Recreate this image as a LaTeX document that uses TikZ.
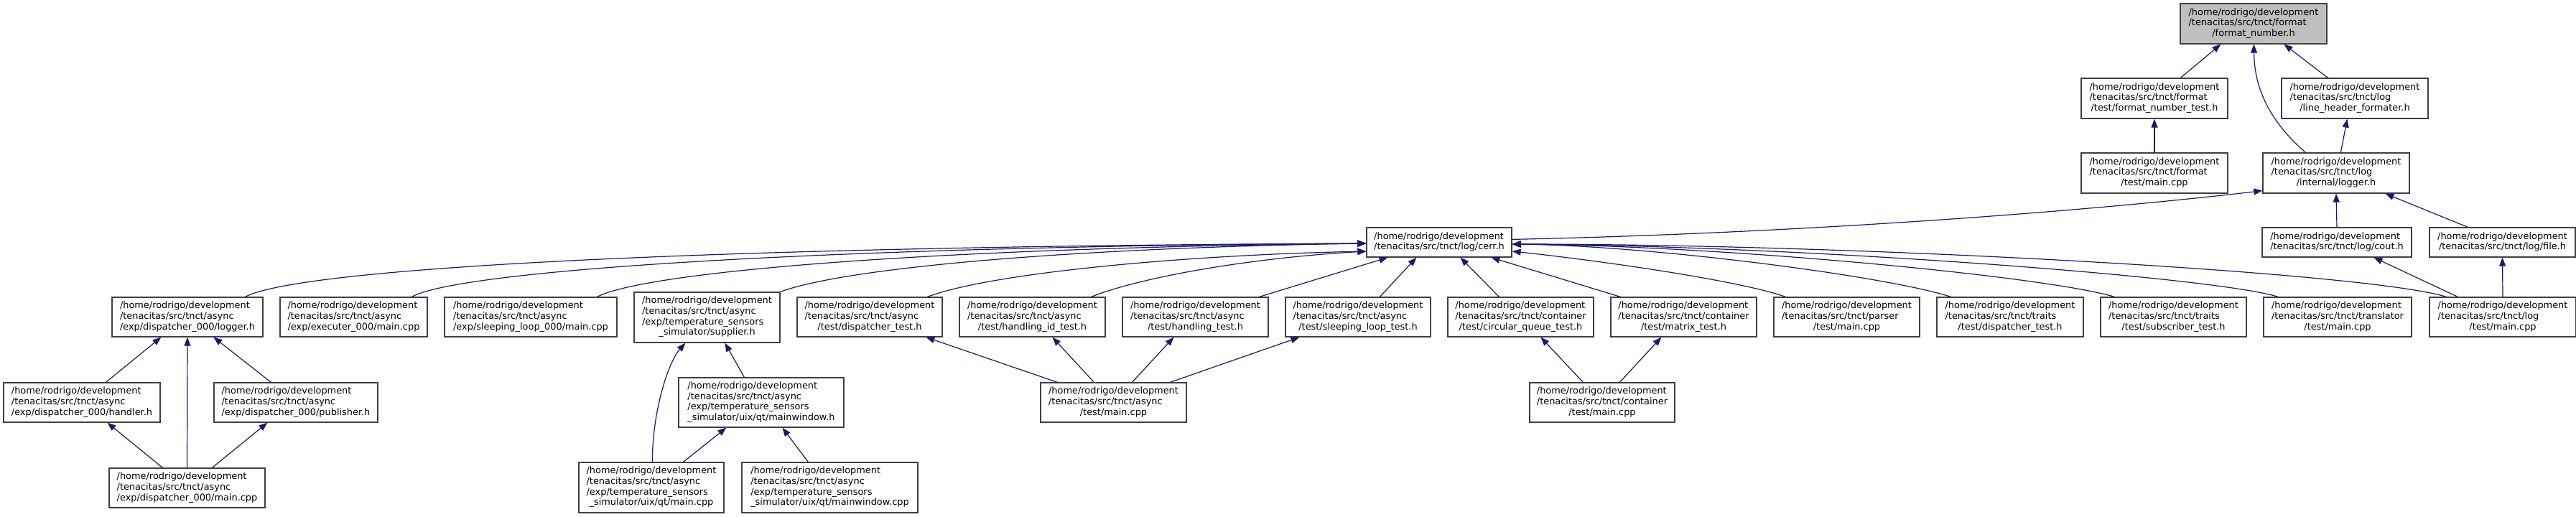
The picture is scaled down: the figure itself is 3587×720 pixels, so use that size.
\documentclass[tikz,border=0pt]{standalone}
\usepackage{fontspec}
\setmainfont{DejaVu Sans}
\usetikzlibrary{arrows.meta}
\definecolor{edgecol}{HTML}{191970}
\definecolor{bordercol}{HTML}{404040}
\definecolor{rootfill}{HTML}{BFBFBF}
\newcommand\twol[2]{\begin{tabular}{@{}l@{}}#1\\\multicolumn{1}{@{}c@{}}{#2}\end{tabular}}
\newcommand\threel[3]{\begin{tabular}{@{}l@{}}#1\\#2\\\multicolumn{1}{@{}c@{}}{#3}\end{tabular}}
\newcommand\fourl[4]{\begin{tabular}{@{}l@{}}#1\\#2\\#3\\\multicolumn{1}{@{}c@{}}{#4}\end{tabular}}
\newcommand\hrd{/home/rodrigo/development}
\newcommand\nd[7][]{\node[box,#1,minimum width={#5pt-#3pt},minimum height={#6pt-#4pt}] (#2) at ({(#3+#5)/2},{(#4+#6)/2}) {#7};}
\tikzset{
  box/.style={draw=bordercol, line width=1.2pt, fill=white, inner sep=0pt,
    font=\fontsize{12.9}{14.7}\selectfont},
  rootbox/.style={fill=rootfill},
  edge/.style={draw=edgecol, line width=1.2pt, -{Triangle[length=12pt,width=9pt]}}
}
\begin{document}
\begin{tikzpicture}[x=1pt,y=-1pt]
\fill[white] (0,0) rectangle (3587,720);
\useasboundingbox (0,0) rectangle (3587,720);
% row 1
\nd[rootbox]{fmt}{3036}{5}{3240}{61}{\threel{\hrd}{/tenacitas/src/tnct/format}{/format\_number.h}}
% row 2
\nd{fmttest}{2898}{109}{3102}{165}{\threel{\hrd}{/tenacitas/src/tnct/format}{/test/format\_number\_test.h}}
\nd{linehdr}{3177}{109}{3381}{165}{\threel{\hrd}{/tenacitas/src/tnct/log}{/line\_header\_formater.h}}
% row 3
\nd{fmtmain}{2898}{213}{3102}{269}{\threel{\hrd}{/tenacitas/src/tnct/format}{/test/main.cpp}}
\nd{logger}{3151}{213}{3355}{269}{\threel{\hrd}{/tenacitas/src/tnct/log}{/internal/logger.h}}
% cerr row
\nd{cerr}{1903}{317}{2105}{358}{\twol{\hrd}{/tenacitas/src/tnct/log/cerr.h}}
\nd{cout}{3150}{317}{3358}{358}{\twol{\hrd}{/tenacitas/src/tnct/log/cout.h}}
\nd{file}{3383}{317}{3586}{358}{\twol{\hrd}{/tenacitas/src/tnct/log/file.h}}
% row 4
\nd{dlogger}{156}{414}{366}{469}{\threel{\hrd}{/tenacitas/src/tnct/async}{/exp/dispatcher\_000/logger.h}}
\nd{execmain}{390}{414}{595}{469}{\threel{\hrd}{/tenacitas/src/tnct/async}{/exp/executer\_000/main.cpp}}
\nd{sleepmain}{619}{414}{859}{469}{\threel{\hrd}{/tenacitas/src/tnct/async}{/exp/sleeping\_loop\_000/main.cpp}}
\nd{supplier}{883}{407}{1086}{477}{\fourl{\hrd}{/tenacitas/src/tnct/async}{/exp/temperature\_sensors}{\_simulator/supplier.h}}
\nd{adisp}{1110}{414}{1312}{469}{\threel{\hrd}{/tenacitas/src/tnct/async}{/test/dispatcher\_test.h}}
\nd{hid}{1336}{414}{1539}{469}{\threel{\hrd}{/tenacitas/src/tnct/async}{/test/handling\_id\_test.h}}
\nd{hand}{1563}{414}{1766}{469}{\threel{\hrd}{/tenacitas/src/tnct/async}{/test/handling\_test.h}}
\nd{sltest}{1790}{414}{1992}{469}{\threel{\hrd}{/tenacitas/src/tnct/async}{/test/sleeping\_loop\_test.h}}
\nd{circ}{2016}{414}{2219}{469}{\threel{\hrd}{/tenacitas/src/tnct/container}{/test/circular\_queue\_test.h}}
\nd{matrix}{2243}{414}{2446}{469}{\threel{\hrd}{/tenacitas/src/tnct/container}{/test/matrix\_test.h}}
\nd{parser}{2470}{414}{2673}{469}{\threel{\hrd}{/tenacitas/src/tnct/parser}{/test/main.cpp}}
\nd{tdisp}{2697}{414}{2901}{469}{\threel{\hrd}{/tenacitas/src/tnct/traits}{/test/dispatcher\_test.h}}
\nd{tsub}{2925}{414}{3128}{469}{\threel{\hrd}{/tenacitas/src/tnct/traits}{/test/subscriber\_test.h}}
\nd{trans}{3152}{414}{3358}{469}{\threel{\hrd}{/tenacitas/src/tnct/translator}{/test/main.cpp}}
\nd{logmain}{3383}{414}{3587}{469}{\threel{\hrd}{/tenacitas/src/tnct/log}{/test/main.cpp}}
% row 5
\nd{handler}{5}{533}{223}{588}{\threel{\hrd}{/tenacitas/src/tnct/async}{/exp/dispatcher\_000/handler.h}}
\nd{publisher}{298}{533}{526}{588}{\threel{\hrd}{/tenacitas/src/tnct/async}{/exp/dispatcher\_000/publisher.h}}
\nd{mwh}{945}{526}{1175}{595}{\fourl{\hrd}{/tenacitas/src/tnct/async}{/exp/temperature\_sensors}{\_simulator/uix/qt/mainwindow.h}}
\nd{amain}{1449}{533}{1652}{588}{\threel{\hrd}{/tenacitas/src/tnct/async}{/test/main.cpp}}
\nd{cmain}{2130}{533}{2332}{588}{\threel{\hrd}{/tenacitas/src/tnct/container}{/test/main.cpp}}
% row 6
\nd{dmain}{152}{652}{369}{707}{\threel{\hrd}{/tenacitas/src/tnct/async}{/exp/dispatcher\_000/main.cpp}}
\nd{qtmain}{806}{644}{1008}{714}{\fourl{\hrd}{/tenacitas/src/tnct/async}{/exp/temperature\_sensors}{\_simulator/uix/qt/main.cpp}}
\nd{mwcpp}{1033}{644}{1278}{714}{\fourl{\hrd}{/tenacitas/src/tnct/async}{/exp/temperature\_sensors}{\_simulator/uix/qt/mainwindow.cpp}}
% edges top
\draw[edge] ([xshift=139pt]fmttest.north west) -- ([xshift=57pt]fmt.south west);
\draw[edge] ([xshift=65pt]linehdr.north west) -- ([xshift=145pt]fmt.south west);
\draw[edge] ([xshift=60pt]logger.north west) .. controls (3150,160) and (3139,110) .. ([xshift=103pt]fmt.south west);
\draw[edge] (fmtmain.north) -- (fmttest.south);
\draw[edge] ([xshift=109pt]logger.north west) -- ([xshift=92pt]linehdr.south west);
\draw[edge] ([yshift=-17pt]cerr.north east) .. controls (2500,325) and (2900,295) .. ([yshift=4pt]logger.south west);
\draw[edge] (cout.north) -- (logger.south);
\draw[edge] ([xshift=54pt]file.north west) -- ([xshift=171pt]logger.south west);
\draw[edge] ([xshift=40pt]logmain.north west) -- ([xshift=156pt]cout.south west);
\draw[edge] (logmain.north) -- (file.south);
% edges into cerr
\draw[edge] ([xshift=186pt]dlogger.north west) .. controls (420,372) and (1000,343) .. ([yshift=-1.5pt]cerr.west);
\draw[edge] ([xshift=184pt]execmain.north west) .. controls (640,376) and (1150,343) .. ([yshift=-1.5pt]cerr.west);
\draw[edge] ([xshift=213pt]sleepmain.north west) .. controls (900,378) and (1300,345) .. ([yshift=-1.5pt]cerr.west);
\draw[edge] (supplier.north east) .. controls (1180,372) and (1500,345) .. ([yshift=-1.5pt]cerr.west);
\draw[edge] ([xshift=182pt]adisp.north west) .. controls (1380,380) and (1650,355) .. ([yshift=-12.5pt]cerr.west);
\draw[edge] ([xshift=184pt]hid.north west) .. controls (1600,382) and (1760,358) .. ([yshift=-12.5pt]cerr.west);
\draw[edge] ([xshift=191pt]hand.north west) -- ([xshift=30pt]cerr.south west);
\draw[edge] ([xshift=132pt]sltest.north west) -- ([xshift=70pt]cerr.south west);
\draw[edge] ([xshift=72pt]circ.north west) -- ([xshift=131pt]cerr.south west);
\draw[edge] ([xshift=14pt]matrix.north west) -- ([xshift=174pt]cerr.south west);
\draw[edge] ([xshift=17pt]parser.north west) .. controls (2420,390) and (2220,362) .. ([yshift=-12.5pt]cerr.east);
\draw[edge] ([xshift=20pt]tdisp.north west) .. controls (2630,385) and (2300,342) .. ([yshift=-2.5pt]cerr.east);
\draw[edge] ([xshift=20pt]tsub.north west) .. controls (2850,385) and (2400,342) .. ([yshift=-2.5pt]cerr.east);
\draw[edge] ([xshift=21pt]trans.north west) .. controls (3080,385) and (2500,342) .. ([yshift=-2.5pt]cerr.east);
\draw[edge] ([xshift=24pt]logmain.north west) .. controls (3300,380) and (2600,340) .. ([yshift=-2.5pt]cerr.east);
% dispatcher_000
\draw[edge] ([xshift=143pt]handler.north west) -- ([xshift=69pt]dlogger.south west);
\draw[edge] (dmain.north) -- (dlogger.south);
\draw[edge] ([xshift=80pt]publisher.north west) -- ([xshift=142pt]dlogger.south west);
\draw[edge] ([xshift=75pt]dmain.north west) -- ([xshift=145pt]handler.south west);
\draw[edge] ([xshift=144pt]dmain.north west) -- ([xshift=75pt]publisher.south west);
% temperature sensors
\draw[edge] ([xshift=103pt]qtmain.north west) .. controls (908,575) and (930,505) .. ([xshift=72pt]supplier.south west);
\draw[edge] ([xshift=92pt]mwh.north west) -- ([xshift=127pt]supplier.south west);
\draw[edge] ([xshift=146pt]qtmain.north west) -- ([xshift=67pt]mwh.south west);
\draw[edge] ([xshift=93pt]mwcpp.north west) -- ([xshift=145pt]mwh.south west);
% async test
\draw[edge] ([xshift=24pt]amain.north west) -- ([xshift=180pt]adisp.south west);
\draw[edge] ([xshift=75pt]amain.north west) -- ([xshift=130pt]hid.south west);
\draw[edge] ([xshift=128pt]amain.north west) -- ([xshift=72pt]hand.south west);
\draw[edge] ([xshift=181pt]amain.north west) -- ([xshift=20pt]sltest.south west);
% container test
\draw[edge] ([xshift=75pt]cmain.north west) -- ([xshift=130pt]circ.south west);
\draw[edge] ([xshift=126pt]cmain.north west) -- ([xshift=71pt]matrix.south west);
\end{tikzpicture}
\end{document}
